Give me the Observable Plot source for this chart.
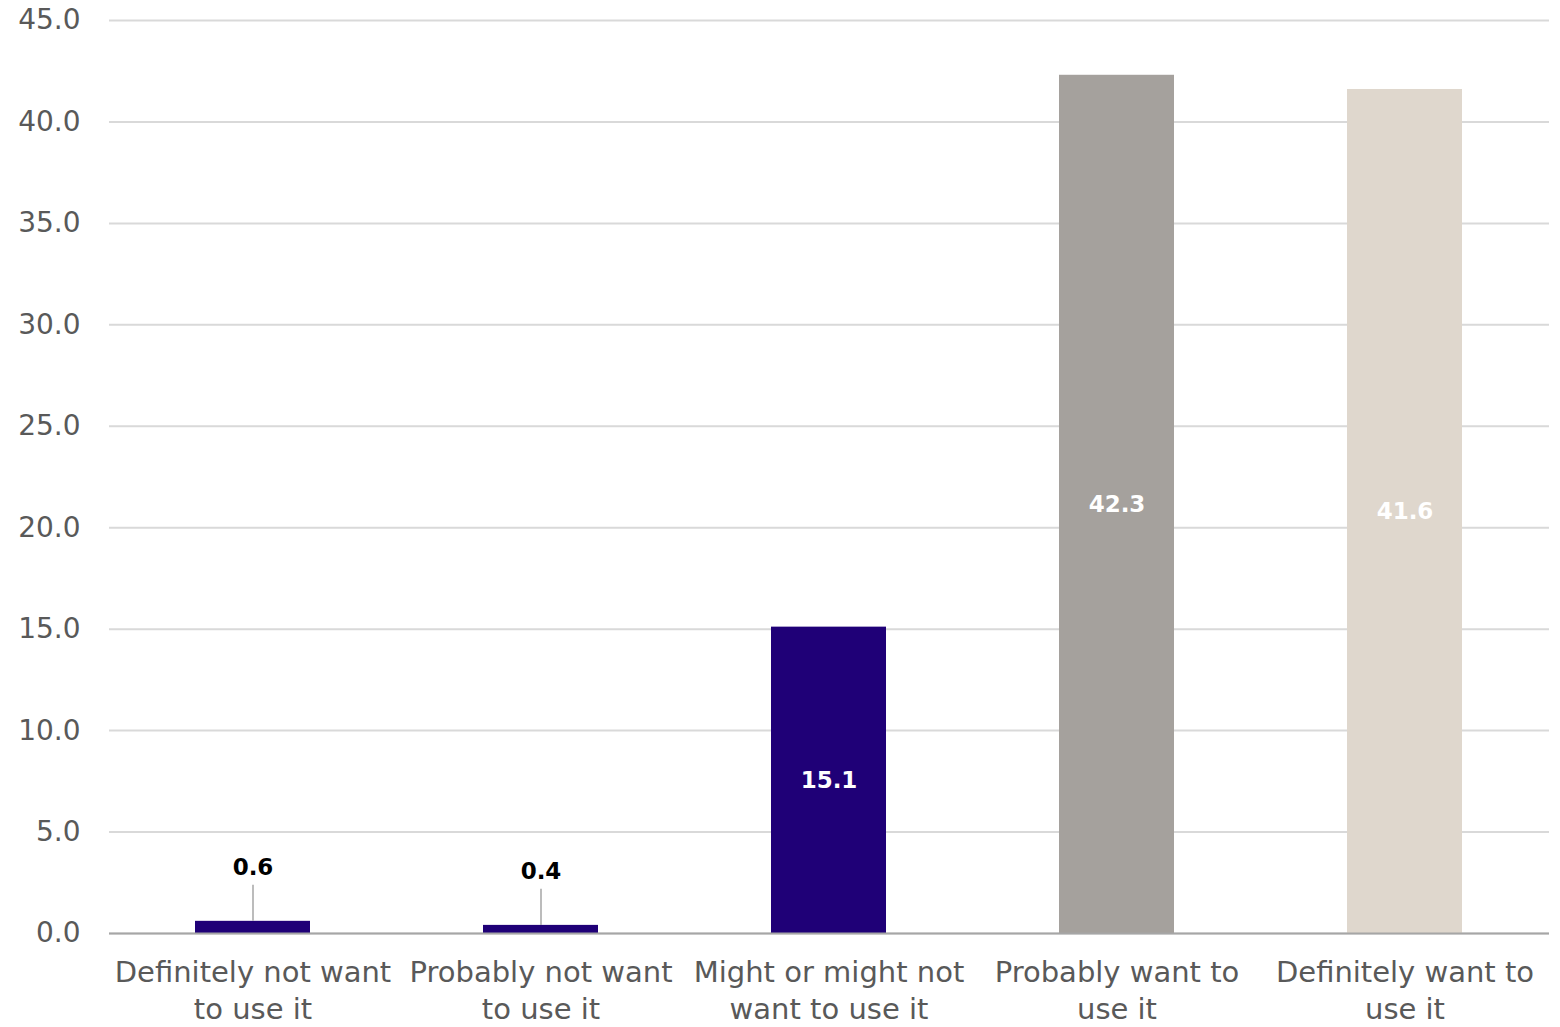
<!DOCTYPE html>
<html>
<head>
<meta charset="utf-8">
<script src="https://cdn.jsdelivr.net/npm/d3@7"></script>
<script src="https://cdn.jsdelivr.net/npm/@observablehq/plot@0.6"></script>
<style>
  html, body { margin: 0; padding: 0; background: #fff; }
  #chart { width: 1560px; height: 1027px; }
</style>
</head>
<body>
<div id="chart"></div>
<script>
const categories = [
  "Definitely not want\nto use it",
  "Probably not want\nto use it",
  "Might or might not\nwant to use it",
  "Probably want to\nuse it",
  "Definitely want to\nuse it"
];
const values = [0.6, 0.4, 15.1, 42.3, 41.6];
const yTicks = [0, 5, 10, 15, 20, 25, 30, 35, 40, 45];

const barColors = ["#1f0077", "#1f0077", "#1f0077", "#a5a19d", "#dfd7cd"];

const data = categories.map((c, i) => ({cat: c, value: values[i]}));
const small = data.filter(d => d.value < 5);
const big = data.filter(d => d.value >= 5);

const font = "'DejaVu Sans', Verdana, sans-serif";

const chart = Plot.plot({
  width: 1560,
  height: 1027,
  marginLeft: 109,
  marginRight: 11,
  marginTop: 20,
  marginBottom: 94,
  style: {fontFamily: font, background: "#fff"},
  x: {domain: categories, paddingInner: 0.6, paddingOuter: 0.3, label: null},
  y: {domain: [0, 45], label: null},
  color: {domain: categories, range: barColors},
  marks: [
    Plot.gridY(yTicks, {stroke: "#d9d9d9", strokeOpacity: 1, strokeWidth: 2}),
    Plot.axisY(yTicks, {
      tickSize: 0, tickPadding: 29, tickFormat: d3.format(".1f"),
      fontSize: 28, fill: "#595959", label: null
    }),
    Plot.axisX({
      tickSize: 0, tickPadding: 22, fontSize: 29, fill: "#595959",
      lineHeight: 1.28, label: null
    }),
    Plot.barY(data, {x: "cat", y: "value", fill: "cat"}),
    Plot.ruleY([0], {stroke: "#a6a6a6", strokeWidth: 2}),
    Plot.ruleX(small, {x: "cat", y1: "value", y2: d => d.value + 1.78, stroke: "#a6a6a6", strokeWidth: 1.5}),
    Plot.text(small, {x: "cat", y: "value", text: d => d.value.toFixed(1), dy: -54, fontSize: 23, fontWeight: "bold", fill: "#000"}),
    Plot.text(big, {x: "cat", y: d => d.value / 2, text: d => d.value.toFixed(1), fontSize: 23, fontWeight: "bold", fill: "#fff", letterSpacing: 1})
  ]
});
document.getElementById("chart").appendChild(chart);
</script>
</body>
</html>
